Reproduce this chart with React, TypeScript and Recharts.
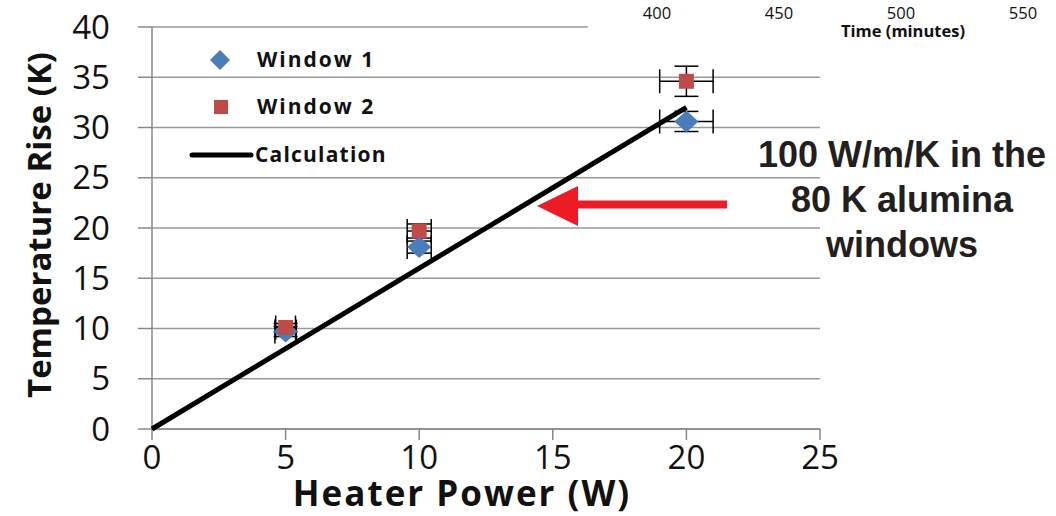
import { ComposedChart, Scatter, XAxis, YAxis, CartesianGrid, ErrorBar } from "recharts";

// heater power (W) for the measured points
const power = [5, 10, 20];
// temperature rise (K) and error bars, window 1
const window1Rise = [9.7, 18.1, 30.6];
const window1ErrX = [0.4, 0.45, 1.0];
const window1ErrY = [0.5, 0.6, 1.0];
// window 2
const window2Rise = [10.1, 19.7, 34.6];
const window2ErrX = [0.37, 0.45, 1.0];
const window2ErrY = [0.4, 0.7, 1.5];
// calculated line
const calcPower = [0, 20];
const calcRise = [0, 32];

const xTicks = [0, 5, 10, 15, 20, 25];
const yTicks = [0, 5, 10, 15, 20, 25, 30, 35, 40];
const timeTicks = ["400", "450", "500", "550"];
const noteLines = ["100 W/m/K in the", "80 K alumina", "windows"];

const BLUE = "#4A7EBB";
const RED = "#BE4B48";

const w1 = power.map((p, i) => ({ x: p, y: window1Rise[i], ex: window1ErrX[i], ey: window1ErrY[i] }));
const w2 = power.map((p, i) => ({ x: p, y: window2Rise[i], ex: window2ErrX[i], ey: window2ErrY[i] }));
const calc = calcPower.map((p, i) => ({ x: p, y: calcRise[i] }));

const tickStyle = { fill: "#111", fontSize: 33, fontFamily: "Open Sans" };

function Diamond(props: any) {
  const { cx, cy } = props;
  const r = 11;
  return <polygon points={`${cx},${cy - r} ${cx + r + 1},${cy} ${cx},${cy + r} ${cx - r - 1},${cy}`} fill={BLUE} />;
}

function Square(props: any) {
  const { cx, cy } = props;
  return <rect x={cx - 7.5} y={cy - 7.5} width={15} height={15} fill={RED} />;
}

// legend box, top-left of plot
function KeyBox() {
  const txt = { fontFamily: "Open Sans", fontWeight: 700, fontSize: 21, fill: "#111", letterSpacing: 2 };
  return (
    <g transform="translate(175,35)">
      <polygon points="45,15 55,25 45,35 35,25" fill={BLUE} />
      <text x={82} y={32} style={txt}>Window 1</text>
      <rect x={39} y={65} width={14} height={14} fill={RED} />
      <text x={82} y={79} style={txt}>Window 2</text>
      <line x1={17} y1={120} x2={76} y2={120} stroke="#000" strokeWidth={5} strokeLinecap="round" />
      <text x={80} y={127} style={{ ...txt, letterSpacing: 1.2 }}>Calculation</text>
    </g>
  );
}

export default function App() {
  return (
    <div style={{ position: "absolute", left: 0, top: 0, width: 1056, height: 516, background: "#fff" }}>
      <ComposedChart width={1056} height={516} margin={{ top: 27, right: 236, left: 0, bottom: 0 }}>
        <CartesianGrid vertical={false} stroke="#999" strokeWidth={1.5} />
        <XAxis
          type="number"
          dataKey="x"
          domain={[0, 25]}
          ticks={xTicks}
          interval={0}
          height={87}
          tickSize={11}
          tickMargin={6}
          tick={tickStyle}
          stroke="#888"
          strokeWidth={1.5}
          label={() => (
            <text x={462} y={506} textAnchor="middle" style={{ fontFamily: "Open Sans", fontWeight: 700, fontSize: 35, letterSpacing: 2, fill: "#111" }}>
              Heater Power (W)
            </text>
          )}
        />
        <YAxis
          type="number"
          dataKey="y"
          domain={[0, 40]}
          ticks={yTicks}
          interval={0}
          width={152}
          tickSize={14}
          tickMargin={28}
          tick={tickStyle}
          stroke="#888"
          strokeWidth={1.5}
          label={() => (
            <text
              x={38}
              y={225}
              textAnchor="middle"
              dominantBaseline="central"
              transform="rotate(-90 38 225)"
              style={{ fontFamily: "Open Sans", fontWeight: 700, fontSize: 33, fill: "#111" }}
            >
              Temperature Rise (K)
            </text>
          )}
        />
        <Scatter name="Window 1" data={w1} shape={<Diamond />} isAnimationActive={false}>
          <ErrorBar dataKey="ex" direction="x" width={12} stroke="#000" strokeWidth={1.5} />
          <ErrorBar dataKey="ey" direction="y" width={12} stroke="#000" strokeWidth={1.5} />
        </Scatter>
        <Scatter name="Window 2" data={w2} shape={<Square />} isAnimationActive={false}>
          <ErrorBar dataKey="ex" direction="x" width={12} stroke="#000" strokeWidth={1.5} />
          <ErrorBar dataKey="ey" direction="y" width={12} stroke="#000" strokeWidth={1.5} />
        </Scatter>
        <Scatter
          name="Calculation"
          data={calc}
          line={{ stroke: "#000", strokeWidth: 5 }}
          shape={() => <g />}
          isAnimationActive={false}
        />
      </ComposedChart>
      <svg width={1056} height={516} style={{ position: "absolute", left: 0, top: 0, pointerEvents: "none" }}>
        <KeyBox />
        <rect x={588} y={0} width={468} height={45} fill="#fff" />
        {timeTicks.map((t, i) => (
          <text key={t} x={657 + i * 122} y={19} textAnchor="middle" style={{ fontFamily: "Open Sans", fontSize: 16.5, fill: "#111" }}>
            {t}
          </text>
        ))}
        <text x={903} y={37} textAnchor="middle" style={{ fontFamily: "Open Sans", fontWeight: 700, fontSize: 16.5, fill: "#111" }}>
          Time (minutes)
        </text>
        <rect x={574} y={200.5} width={153} height={8} fill="#ED1C24" />
        <polygon points="537,206 578,186 578,226" fill="#ED1C24" />
        {noteLines.map((t, i) => (
          <text key={t} x={902} y={167 + i * 45} textAnchor="middle" style={{ fontFamily: "Liberation Sans", fontWeight: 700, fontSize: 36, fill: "#231F20" }}>
            {t}
          </text>
        ))}
      </svg>
    </div>
  );
}
